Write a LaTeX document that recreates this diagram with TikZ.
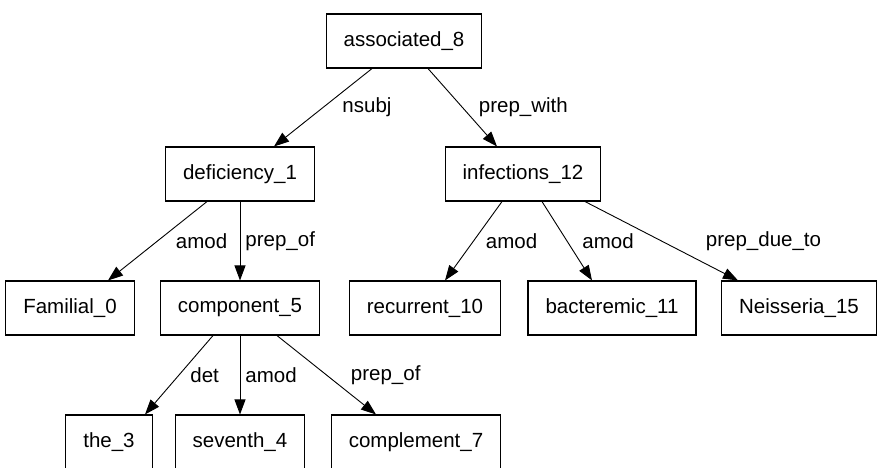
\documentclass[tikz,border=0pt]{standalone}
\usepackage{fontspec}
\setmainfont{Liberation Sans}
\usetikzlibrary{arrows.meta}
\tikzstyle{word}=[solid,rectangle,black,draw,line width=1.1pt,minimum height=54pt,inner xsep=17.5pt,font=\fontsize{20.5}{24}\selectfont]
\tikzstyle{dep}=[solid,black,draw,line width=0.9pt,-{Triangle[length=15pt,width=11pt]}]
\tikzstyle{rel}=[midway,anchor=west,inner sep=0pt,font=\fontsize{20.5}{24}\selectfont]

\begin{document}
\begin{tikzpicture}[x=1pt,y=-1pt]
	\useasboundingbox (0,0) rectangle (877,467);
	\node[word] (assoc) at (404,41) {associated\_8};
	\node[word] (defic) at (240,174) {deficiency\_1};
	\node[word] (infec) at (523,174) {infections\_12};
	\node[word] (famil) at (70,308) {Familial\_0};
	\node[word] (compo) at (240,308) {component\_5};
	\node[word] (recur) at (425,308) {recurrent\_10};
	\node[word] (bacte) at (612,308) {bacteremic\_11};
	\node[word] (neiss) at (799,308) {Neisseria\_15};
	\node[word] (the) at (109,442) {the\_3};
	\node[word] (seven) at (240,442) {seventh\_4};
	\node[word] (compl) at (416,442) {complement\_7};
	\path[dep] ([xshift=-32pt]assoc.south) -- ([xshift=34pt]defic.north) node[rel,xshift=19pt] (l1) {nsubj};
	\path[dep] ([xshift=24pt]assoc.south) -- ([xshift=-26pt]infec.north) node[rel,xshift=16pt] (l2) {prep\_with};
	\path[dep] ([xshift=-33pt]defic.south) -- ([xshift=38pt]famil.north) node[rel,xshift=18pt] (l3) {amod};
	\path[dep] (defic.south) -- (compo.north) node[rel,xshift=5pt] (l4) {prep\_of};
	\path[dep] ([xshift=-21pt]infec.south) -- ([xshift=20pt]recur.north) node[rel,xshift=12pt] (l5) {amod};
	\path[dep] ([xshift=19pt]infec.south) -- ([xshift=-20pt]bacte.north) node[rel,xshift=15pt] (l6) {amod};
	\path[dep] ([xshift=62pt]infec.south) -- ([xshift=-61pt]neiss.north) node[rel,xshift=44pt] (l7) {prep\_due\_to};
	\path[dep] ([xshift=-27pt]compo.south) -- ([xshift=36pt]the.north) node[rel,xshift=11pt] (l8) {det};
	\path[dep] (compo.south) -- (seven.north) node[rel,xshift=5pt] (l9) {amod};
	\path[dep] ([xshift=37pt]compo.south) -- ([xshift=-40pt]compl.north) node[rel,xshift=24pt] (l10) {prep\_of};
\end{tikzpicture}
\end{document}
